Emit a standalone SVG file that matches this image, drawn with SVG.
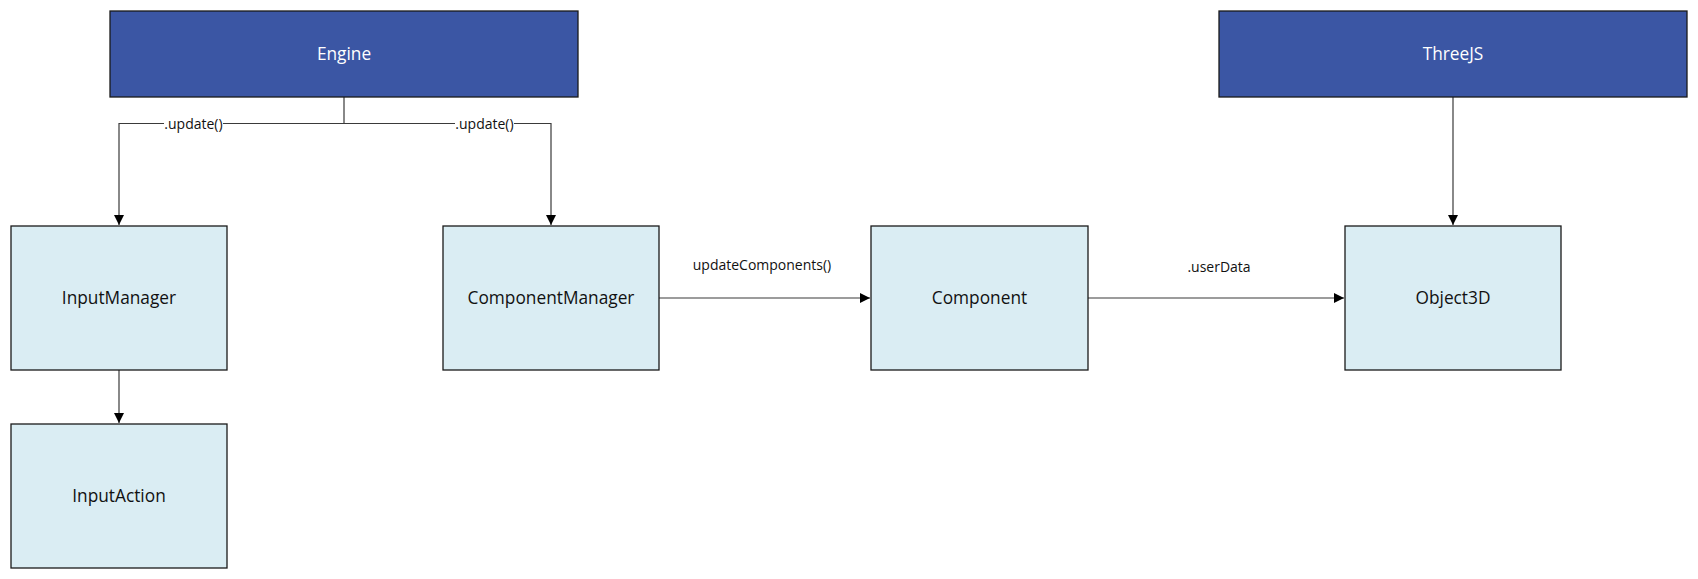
<svg xmlns="http://www.w3.org/2000/svg" width="1698" height="579" viewBox="0 0 1698 579">
<style>
.bg{fill:#ffffff}
.dark rect{fill:#3B56A4;stroke:#1a1a1a;stroke-width:1.3}
.light rect{fill:#DAEDF3;stroke:#1a1a1a;stroke-width:1.3}
.dark text{fill:#ffffff;font-family:"Open Sans","Noto Sans",sans-serif;font-size:17.3px;text-anchor:middle}
.light text{fill:#111111;font-family:"Open Sans","Noto Sans",sans-serif;font-size:17.3px;text-anchor:middle}
.edge{fill:none;stroke:#3a3a3a;stroke-width:1.2}
.lbl{fill:#111111;font-family:"Open Sans","Noto Sans",sans-serif;font-size:14px;text-anchor:middle}
.lblbg{fill:#ffffff}
</style>
<defs>
<marker id="arrow" viewBox="0 0 10 10" refX="10" refY="5" markerWidth="10" markerHeight="10" markerUnits="userSpaceOnUse" orient="auto">
<path d="M0,0 L10,5 L0,10 Z" fill="#000000"/>
</marker>
</defs>
<rect class="bg" x="0" y="0" width="1698" height="579"/>
<g id="connectors">
<path class="edge" d="M344,97 V123.5 H119 V225" marker-end="url(#arrow)"/>
<path class="edge" d="M344,123.5 H551 V225" marker-end="url(#arrow)"/>
<path class="edge" d="M119,370 V423" marker-end="url(#arrow)"/>
<path class="edge" d="M659,298 H870" marker-end="url(#arrow)"/>
<path class="edge" d="M1088,298 H1344" marker-end="url(#arrow)"/>
<path class="edge" d="M1453,97 V225" marker-end="url(#arrow)"/>
<rect class="lblbg" x="164" y="115" width="59" height="17"/>
<text class="lbl" x="193.5" y="129">.update()</text>
<rect class="lblbg" x="455" y="115" width="59" height="17"/>
<text class="lbl" x="484.5" y="129">.update()</text>
<text class="lbl" x="762" y="270">updateComponents()</text>
<text class="lbl" x="1219" y="272">.userData</text>
</g>
<g id="engine" class="dark">
<rect x="110" y="11" width="468" height="86"/>
<text x="344" y="60">Engine</text>
</g>
<g id="threejs" class="dark">
<rect x="1219" y="11" width="468" height="86"/>
<text x="1453" y="60">ThreeJS</text>
</g>
<g id="inputmanager" class="light">
<rect x="11" y="226" width="216" height="144"/>
<text x="119" y="304">InputManager</text>
</g>
<g id="inputaction" class="light">
<rect x="11" y="424" width="216" height="144"/>
<text x="119" y="502">InputAction</text>
</g>
<g id="componentmanager" class="light">
<rect x="443" y="226" width="216" height="144"/>
<text x="551" y="304">ComponentManager</text>
</g>
<g id="component" class="light">
<rect x="871" y="226" width="217" height="144"/>
<text x="979.5" y="304">Component</text>
</g>
<g id="object3d" class="light">
<rect x="1345" y="226" width="216" height="144"/>
<text x="1453" y="304">Object3D</text>
</g>
</svg>
